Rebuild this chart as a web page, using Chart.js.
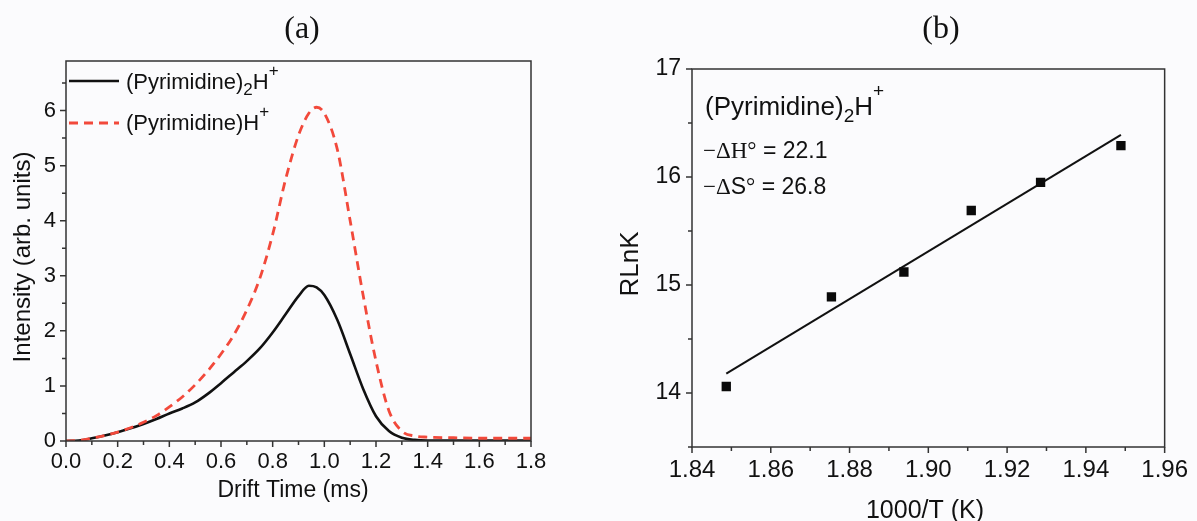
<!DOCTYPE html>
<html>
<head>
<meta charset="utf-8">
<script src="https://cdn.jsdelivr.net/npm/chart.js@4.4.1/dist/chart.umd.min.js"></script>
<style>
  body { margin: 0; background: #fbfbfd; }
  #wrap { position: relative; width: 1197px; height: 521px; }
  .panel { position: absolute; top: 0; }
</style>
</head>
<body>
<div id="wrap">
  <div class="panel" style="left:0"><canvas id="chartA" width="600" height="521"></canvas></div>
  <div class="panel" style="left:600px"><canvas id="chartB" width="597" height="521"></canvas></div>
</div>
<script>
// ---- panel (a): drift time distributions ----
const driftTime = [0, 0.05, 0.1, 0.15, 0.2, 0.25, 0.3, 0.35, 0.4, 0.45, 0.5, 0.55, 0.6, 0.65, 0.7, 0.75, 0.8, 0.85, 0.9, 0.94, 0.97, 1.0, 1.05, 1.1, 1.15, 1.2, 1.25, 1.3, 1.35, 1.4, 1.5, 1.6, 1.7, 1.8];
const dimerIntensity = [0, 0.01, 0.05, 0.1, 0.16, 0.23, 0.31, 0.4, 0.5, 0.59, 0.7, 0.86, 1.05, 1.25, 1.45, 1.68, 1.97, 2.3, 2.63, 2.82, 2.79, 2.65, 2.2, 1.58, 0.95, 0.45, 0.18, 0.06, 0.02, 0.01, 0.01, 0.01, 0.01, 0.01];
const monomerIntensity = [0, 0.01, 0.05, 0.1, 0.16, 0.24, 0.34, 0.46, 0.62, 0.8, 1.02, 1.28, 1.58, 1.93, 2.38, 2.95, 3.75, 4.75, 5.55, 5.95, 6.06, 5.95, 5.3, 4.0, 2.65, 1.45, 0.55, 0.18, 0.09, 0.07, 0.06, 0.05, 0.05, 0.05];
const driftTicks = [0, 0.2, 0.4, 0.6, 0.8, 1.0, 1.2, 1.4, 1.6, 1.8];
const driftMinor = [0.1, 0.3, 0.5, 0.7, 0.9, 1.1, 1.3, 1.5, 1.7];
const intensityTicks = [0, 1, 2, 3, 4, 5, 6];
const intensityMinor = [0.5, 1.5, 2.5, 3.5, 4.5, 5.5, 6.5];

// ---- panel (b): RLnK vs 1000/T ----
const invTemp = [1.8487, 1.8754, 1.8938, 1.9109, 1.9285, 1.9489];
const rlnK = [14.06, 14.89, 15.12, 15.69, 15.95, 16.29];
const fitX = [1.8487, 1.9489];
const fitY = [14.18, 16.39];
const invTempTicks = [1.84, 1.86, 1.88, 1.90, 1.92, 1.94, 1.96];
const invTempMinor = [1.85, 1.87, 1.89, 1.91, 1.93, 1.95];
const rlnKTicks = [14, 15, 16, 17];
const rlnKMinor = [13.5, 14.5, 15.5, 16.5];

const SANS = '"Liberation Sans", Arial, sans-serif';
const SERIF = '"Liberation Serif", "Times New Roman", serif';
const AXIS = '#333';

function pairs(xs, ys) {
  return xs.map((x, i) => ({ x: x, y: ys[i] }));
}

// draw a run of text pieces: [text, font, dy]
function drawRuns(ctx, x, y, runs) {
  ctx.textAlign = 'left';
  ctx.textBaseline = 'alphabetic';
  for (const r of runs) {
    ctx.font = r[1];
    ctx.fillText(r[0], x, y + (r[2] || 0));
    x += ctx.measureText(r[0]).width;
  }
  return x;
}

// box around plot + outward major/minor ticks, then panel texts
function framePlugin(ticks, drawTexts) {
  return {
    id: 'frame',
    afterDraw(chart) {
      const ctx = chart.ctx, a = chart.chartArea;
      const xs = chart.scales.x, ys = chart.scales.y;
      ctx.save();
      ctx.strokeStyle = AXIS;
      ctx.lineWidth = 1.5;
      ctx.strokeRect(a.left, a.top, a.right - a.left, a.bottom - a.top);
      ctx.beginPath();
      ticks.xMajor.forEach(v => { const p = xs.getPixelForValue(v); ctx.moveTo(p, a.bottom); ctx.lineTo(p, a.bottom + 6); });
      ticks.xMinor.forEach(v => { const p = xs.getPixelForValue(v); ctx.moveTo(p, a.bottom); ctx.lineTo(p, a.bottom + 4); });
      ticks.yMajor.forEach(v => { const p = ys.getPixelForValue(v); ctx.moveTo(a.left, p); ctx.lineTo(a.left - 6, p); });
      ticks.yMinor.forEach(v => { const p = ys.getPixelForValue(v); ctx.moveTo(a.left, p); ctx.lineTo(a.left - 4, p); });
      ctx.stroke();
      ctx.fillStyle = '#111';
      drawTexts(ctx, a);
      ctx.restore();
    }
  };
}

Chart.defaults.font.family = SANS;
Chart.defaults.color = '#111';

function axis(min, max, tickVals, fmt, size, pad, fitFn) {
  return {
    type: 'linear', min: min, max: max,
    grid: { display: false, drawTicks: false },
    border: { display: false },
    afterBuildTicks: s => { s.ticks = tickVals.map(v => ({ value: v })); },
    afterFit: fitFn,
    ticks: { font: { size: size }, color: '#111', padding: pad, maxRotation: 0, autoSkip: false, callback: fmt }
  };
}

// ---------- chart (a) ----------
new Chart(document.getElementById('chartA'), {
  type: 'scatter',
  data: {
    datasets: [
      {
        label: '(Pyrimidine)2H+',
        data: pairs(driftTime, dimerIntensity),
        showLine: true, pointRadius: 0,
        borderColor: '#111', borderWidth: 2.6,
        cubicInterpolationMode: 'monotone', order: 2
      },
      {
        label: '(Pyrimidine)H+',
        data: pairs(driftTime, monomerIntensity),
        showLine: true, pointRadius: 0,
        borderColor: '#f2493b', borderWidth: 2.8, borderDash: [9, 6],
        cubicInterpolationMode: 'monotone', order: 1
      }
    ]
  },
  options: {
    responsive: false, animation: false,
    layout: { padding: { top: 61, right: 69, bottom: 0, left: 0 } },
    plugins: { legend: { display: false }, tooltip: { enabled: false } },
    scales: {
      x: axis(0, 1.8, driftTicks, v => v.toFixed(1), 22, 8, s => { s.height = 80; }),
      y: axis(0, 6.9, intensityTicks, v => String(v), 22, 10, s => { s.width = 66; })
    }
  },
  plugins: [framePlugin(
    { xMajor: driftTicks, xMinor: driftMinor, yMajor: intensityTicks, yMinor: intensityMinor },
    (ctx, a) => {
      ctx.textAlign = 'center';
      ctx.textBaseline = 'middle';
      ctx.font = '32px ' + SERIF;
      ctx.fillText('(a)', 302, 30);
      ctx.font = '23px ' + SANS;
      ctx.textBaseline = 'alphabetic';
      ctx.fillText('Drift Time (ms)', 293, 497);
      ctx.save();
      ctx.translate(23, 257);
      ctx.rotate(-Math.PI / 2);
      ctx.textBaseline = 'middle';
      ctx.font = '24px ' + SANS;
      ctx.fillText('Intensity (arb. units)', 0, 0);
      ctx.restore();
      // legend
      ctx.lineWidth = 2.6;
      ctx.strokeStyle = '#111';
      ctx.beginPath(); ctx.moveTo(69, 81); ctx.lineTo(119, 81); ctx.stroke();
      ctx.strokeStyle = '#f2493b';
      ctx.lineWidth = 2.8;
      ctx.setLineDash([9, 6]);
      ctx.beginPath(); ctx.moveTo(69, 123); ctx.lineTo(119, 123); ctx.stroke();
      ctx.setLineDash([]);
      const f = '22px ' + SANS, fs = '17px ' + SANS;
      drawRuns(ctx, 126, 89, [['(Pyrimidine)', f], ['2', fs, 6], ['H', f], ['+', fs, -13]]);
      drawRuns(ctx, 126, 130, [['(Pyrimidine)H', f], ['+', fs, -13]]);
    }
  )]
});

// ---------- chart (b) ----------
new Chart(document.getElementById('chartB'), {
  type: 'scatter',
  data: {
    datasets: [
      {
        label: 'RLnK',
        data: pairs(invTemp, rlnK),
        pointStyle: 'rect', pointRadius: 6.6,
        backgroundColor: '#0a0a0a', borderColor: '#0a0a0a', borderWidth: 0
      },
      {
        label: 'Linear fit',
        data: pairs(fitX, fitY),
        showLine: true, pointRadius: 0,
        borderColor: '#111', borderWidth: 2
      }
    ]
  },
  options: {
    responsive: false, animation: false,
    layout: { padding: { top: 69, right: 25, bottom: 0, left: 0 } },
    plugins: { legend: { display: false }, tooltip: { enabled: false } },
    scales: {
      x: axis(1.84, 1.96, invTempTicks, v => v.toFixed(2), 24, 9, s => { s.height = 74; }),
      y: axis(13.5, 17, rlnKTicks, v => String(v), 23, 11, s => { s.width = 92; })
    }
  },
  plugins: [framePlugin(
    { xMajor: invTempTicks, xMinor: invTempMinor, yMajor: rlnKTicks, yMinor: rlnKMinor },
    (ctx, a) => {
      ctx.textAlign = 'center';
      ctx.textBaseline = 'middle';
      ctx.font = '32px ' + SERIF;
      ctx.fillText('(b)', 341, 30);
      ctx.font = '25px ' + SANS;
      ctx.textBaseline = 'alphabetic';
      ctx.fillText('1000/T (K)', 325, 518);
      ctx.save();
      ctx.translate(31, 264);
      ctx.rotate(-Math.PI / 2);
      ctx.textBaseline = 'middle';
      ctx.font = '26px ' + SANS;
      ctx.fillText('RLnK', 0, 0);
      ctx.restore();
      const f = '26px ' + SANS, fs = '19px ' + SANS;
      drawRuns(ctx, 105, 115, [['(Pyrimidine)', f], ['2', fs, 7], ['H', f], ['+', fs, -18]]);
      const g = '23px ' + SANS, gs = '23px ' + SERIF;
      drawRuns(ctx, 103, 158, [['\u2212\u0394H\u00b0', gs], [' = 22.1', g]]);
      drawRuns(ctx, 103, 194, [['\u2212\u0394', gs], ['S', g], ['\u00b0', gs], [' = 26.8', g]]);
    }
  )]
});
</script>
</body>
</html>
